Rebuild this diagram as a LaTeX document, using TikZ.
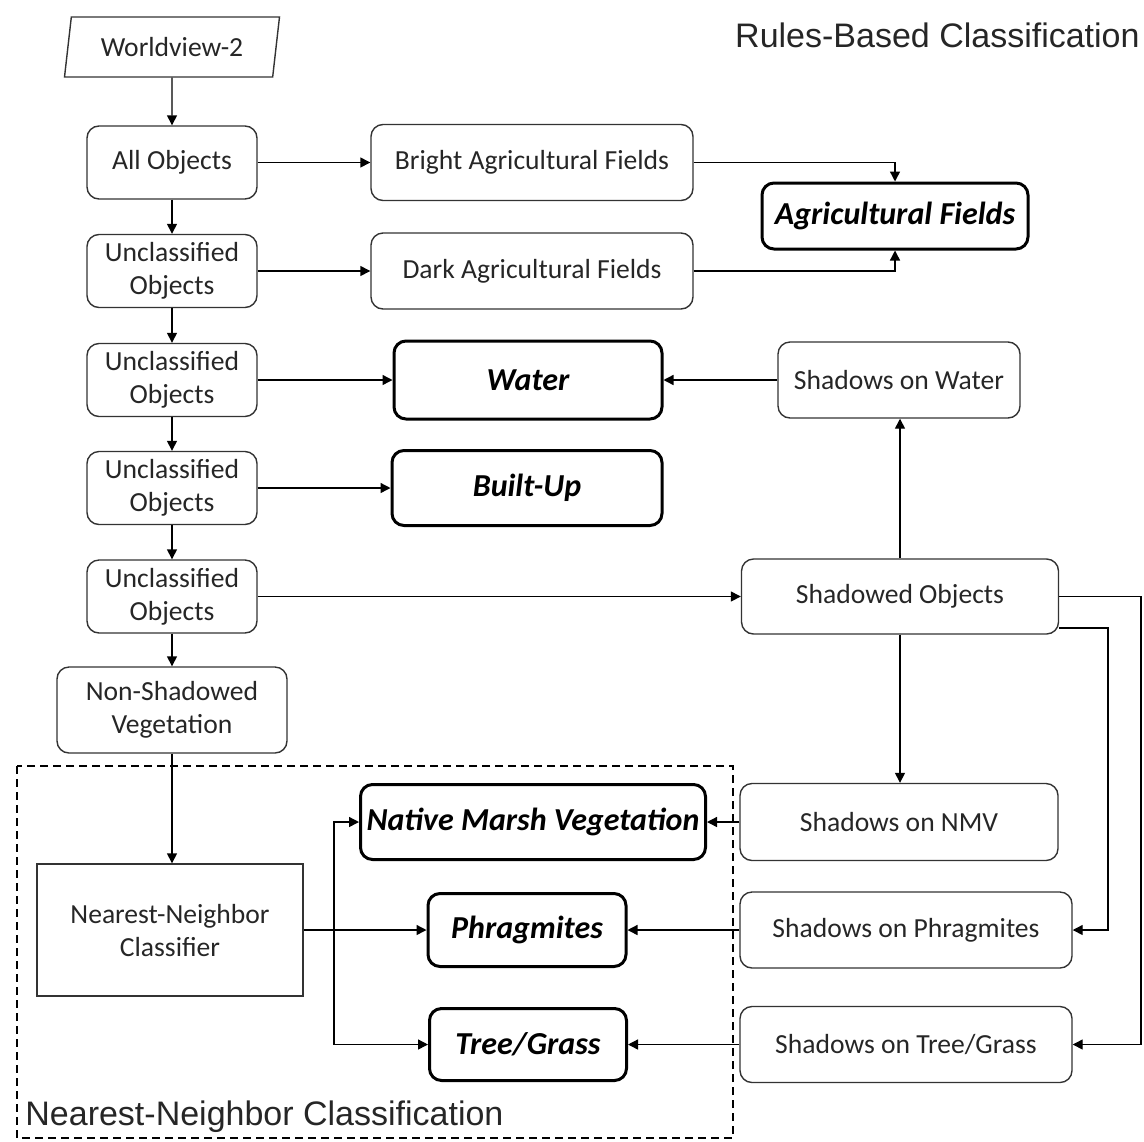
\documentclass[tikz,border=0pt]{standalone}
\usepackage{fontspec}
\setmainfont{Carlito}
\newfontfamily\arialfont{Liberation Sans}
\usetikzlibrary{arrows.meta,shapes.geometric}

\begin{document}
\begin{tikzpicture}[
  x=0.5pt, y=-0.5pt,
  font=\fontsize{13.8}{16.5}\selectfont, text=black!85,
  >={Triangle[length=5pt,width=5pt]},
  box/.style={rounded corners=6pt, draw=black!80, line width=0.7pt,
              align=center, inner sep=0pt},
  col/.style={box, minimum width=85pt, minimum height=36.5pt},
  resbox/.style={box, draw=black, line width=1.5pt, text=black,
              font=\fontsize{16}{19}\selectfont\bfseries\itshape},
  arr/.style={->, line width=0.7pt, draw=black},
  title/.style={font=\arialfont\fontsize{17}{20}\selectfont, inner sep=0pt},
]
\useasboundingbox (0,0) rectangle (1144,1141);

% left column
\node[trapezium, trapezium left angle=76, trapezium right angle=104,
  trapezium stretches=true, draw=black!80, line width=0.7pt,
  minimum width=108pt, minimum height=30pt, inner sep=0pt] (wv) at (172,47) {Worldview-2};
\node[col] (all) at (172,162.5) {All Objects};
\node[col] (u1) at (172,271) {Unclassified\\Objects};
\node[col] (u2) at (172,380) {Unclassified\\Objects};
\node[col] (u3) at (172,488) {Unclassified\\Objects};
\node[col] (u4) at (172,596.5) {Unclassified\\Objects};
\node[box, minimum width=115pt, minimum height=43pt] (nsv) at (172,710) {Non-Shadowed\\Vegetation};
\node[box, rounded corners=0pt, minimum width=133pt, minimum height=66pt] (nnc) at (170,930) {Nearest-Neighbor\\Classifier};

% middle column
\node[box, minimum width=161pt, minimum height=38pt] (bright) at (532,162.5) {Bright Agricultural Fields};
\node[box, minimum width=161pt, minimum height=38pt] (dark) at (532,271) {Dark Agricultural Fields};
\node[resbox, minimum width=134pt, minimum height=39pt] (water) at (528,380) {Water};
\node[resbox, minimum width=135pt, minimum height=37.5pt] (built) at (527,488) {Built-Up};
\node[resbox, minimum width=172.5pt, minimum height=37.5pt] (nmv) at (533,822) {Native Marsh Vegetation};
\node[resbox, minimum width=99pt, minimum height=36.5pt] (phrag) at (527,930) {Phragmites};
\node[resbox, minimum width=98.5pt, minimum height=36pt] (tree) at (528,1044.5) {Tree/Grass};

% right column
\node[resbox, minimum width=133pt, minimum height=33pt] (ag) at (895,216) {Agricultural Fields};
\node[box, minimum width=121pt, minimum height=38pt] (shwater) at (899,380) {Shadows on Water};
\node[box, minimum width=158.5pt, minimum height=37.5pt] (shobj) at (900,596.5) {Shadowed Objects};
\node[box, minimum width=159pt, minimum height=38.5pt] (shnmv) at (899,822) {Shadows on NMV};
\node[box, minimum width=166pt, minimum height=38pt] (shphrag) at (906,930) {Shadows on Phragmites};
\node[box, minimum width=166pt, minimum height=38pt] (shtree) at (906,1044.5) {Shadows on Tree/Grass};

% titles
\node[title, anchor=base east] (rbc) at (1140,47) {Rules-Based Classification};
\node[title, anchor=base west] (nncl) at (25,1125) {Nearest-Neighbor Classification};
\draw[dashed, dash pattern=on 4pt off 2.5pt, line width=0.7pt] (17,766) rectangle (733,1138);

% chain
\draw[arr] (wv.south) -- (all.north);
\draw[arr] (all.south) -- (u1.north);
\draw[arr] (u1.south) -- (u2.north);
\draw[arr] (u2.south) -- (u3.north);
\draw[arr] (u3.south) -- (u4.north);
\draw[arr] (u4.south) -- (nsv.north);
\draw[arr] (nsv.south) -- (nsv.south |- nnc.north);

\draw[arr] (all.east) -- (bright.west);
\draw[arr] (u1.east) -- (dark.west);
\draw[arr] (u2.east) -- (water.west);
\draw[arr] (u3.east) -- (built.west);
\draw[arr] (u4.east) -- (shobj.west);
\draw[arr] (bright.east) -| (ag.north);
\draw[arr] (dark.east) -| (ag.south);

% shadows
\coordinate (rt1) at (1141,596.5);
\coordinate (rt2) at (1108,628);
\coordinate (lp) at (334,930);
\draw[arr] (shobj.north) -- (shobj.north |- shwater.south);
\draw[arr] (shobj.south) -- (shobj.south |- shnmv.north);
\draw[arr] (shobj.east) -- (rt1) |- (shtree.east);
\draw[arr] (rt2 -| shobj.east) -- (rt2) |- (shphrag.east);
\draw[arr] (shwater.west) -- (water.east);
\draw[arr] (shnmv.west) -- (nmv.east);
\draw[arr] (shphrag.west) -- (phrag.east);
\draw[arr] (shtree.west) -- (tree.east);

% classifier
\draw[arr] (nnc.east) -- (phrag.west);
\draw[arr] (lp) |- (nmv.west);
\draw[arr] (lp) |- (tree.west);
\end{tikzpicture}
\end{document}
